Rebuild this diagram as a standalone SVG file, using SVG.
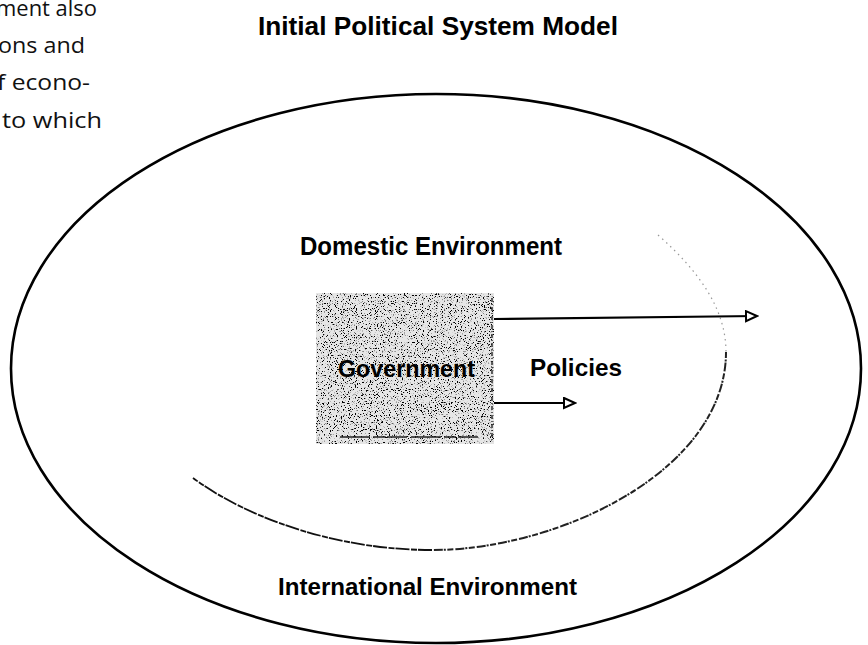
<svg xmlns="http://www.w3.org/2000/svg" width="868" height="645" viewBox="0 0 868 645">
  <style>
    .lbl { font-family: "Liberation Sans", Arial, sans-serif; font-weight: bold; fill: #000; }
    .body { font-family: "Open Sans", "Noto Sans", sans-serif; font-size: 22px; fill: #111; }
    .conn { stroke: #000; stroke-width: 2.2; fill: none; }
  </style>
  <defs>
    <marker id="openTri" markerUnits="userSpaceOnUse" markerWidth="14" markerHeight="14" refX="12" refY="6" orient="auto">
      <path d="M1,1 L12,6 L1,11 Z" fill="#fff" stroke="#000" stroke-width="2"/>
    </marker>
    <filter id="grain" x="0" y="0" width="100%" height="100%">
      <feTurbulence type="fractalNoise" baseFrequency="0.85" numOctaves="2" seed="7" result="n"/>
      <feColorMatrix in="n" type="matrix" values="0 0 0 0 0  0 0 0 0 0  0 0 0 0 0  10 0 0 0 -5.7" result="dots"/>
      <feComposite in="dots" in2="SourceGraphic" operator="in" result="clipped"/>
      <feMerge>
        <feMergeNode in="SourceGraphic"/>
        <feMergeNode in="clipped"/>
      </feMerge>
    </filter>
  </defs>
  <rect width="868" height="645" fill="#fff"/>

  <!-- cut-off body text at top left -->
  <g id="body-text">
    <text class="body" x="-4" y="16" textLength="101" lengthAdjust="spacingAndGlyphs">ment also</text>
    <text class="body" x="-2" y="53" textLength="87" lengthAdjust="spacingAndGlyphs">ons and</text>
    <text class="body" x="-3" y="90" textLength="93" lengthAdjust="spacingAndGlyphs">f econo-</text>
    <text class="body" x="2" y="128" textLength="100" lengthAdjust="spacingAndGlyphs">to which</text>
  </g>

  <g id="title">
    <text class="lbl" x="258" y="35" font-size="26" textLength="360" lengthAdjust="spacingAndGlyphs">Initial Political System Model</text>
  </g>

  <g id="international-environment">
    <ellipse cx="436" cy="368.5" rx="425" ry="274.5" fill="none" stroke="#000" stroke-width="2.6"/>
    <text class="lbl" x="278" y="595" font-size="24" textLength="299" lengthAdjust="spacingAndGlyphs">International Environment</text>
  </g>

  <g id="domestic-environment">
    <path d="M658,235 C700,272 726,310 726,352" fill="none" stroke="#999" stroke-width="1.2" stroke-dasharray="1.5 4"/>
    <path d="M726,352 C726,470 560,550 432,550" fill="none" stroke="#222" stroke-width="2" stroke-dasharray="6 1.5 2 1 9 2"/>
    <path d="M432,550 C340,550 250,520 193,478" fill="none" stroke="#111" stroke-width="1.8" stroke-dasharray="14 1 6 1.5"/>
    <text class="lbl" x="300" y="255" font-size="25" textLength="262" lengthAdjust="spacingAndGlyphs">Domestic Environment</text>
  </g>

  <g id="government">
    <rect x="316" y="293" width="178" height="151" fill="#e6e6e6" filter="url(#grain)"/>
    <line x1="492" y1="298" x2="492" y2="440" stroke="#333" stroke-width="1.5" stroke-dasharray="4 2 1 2"/>
    <line x1="340" y1="437" x2="480" y2="437" stroke="#222" stroke-width="1.6" stroke-dasharray="30 3 12 2 20 4"/>
    <text class="lbl" x="338" y="377" font-size="24" textLength="137" lengthAdjust="spacingAndGlyphs">Government</text>
  </g>

  <g id="policies">
    <text class="lbl" x="530" y="376" font-size="24" textLength="92" lengthAdjust="spacingAndGlyphs">Policies</text>
  </g>

  <g id="connectors">
    <path class="conn" d="M494,319 L757,316" marker-end="url(#openTri)"/>
    <path class="conn" d="M494,403 L575,403" marker-end="url(#openTri)"/>
  </g>
</svg>
